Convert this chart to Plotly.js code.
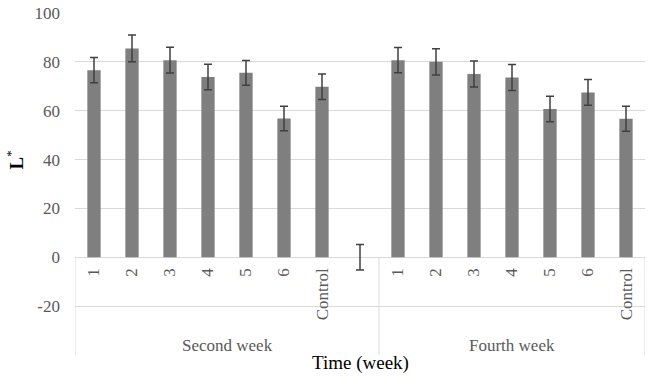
<!DOCTYPE html>
<html>
<head>
<meta charset="utf-8">
<script src="https://cdn.plot.ly/plotly-3.0.1.min.js"></script>
<style>html,body{margin:0;padding:0;background:#fff;}#chart{width:653px;height:380px;}</style>
</head>
<body>
<div id="chart"></div>
<script>
// ---- data ----
const groupLabels = ['Second week', 'Fourth week'];
const secondLabels = ['1', '2', '3', '4', '5', '6', 'Control', ''];
const secondValues = [76.6, 85.5, 80.7, 73.8, 75.5, 56.8, 69.8, 0];
const secondErrors = [5.2, 5.5, 5.3, 5.2, 5.1, 5.0, 5.2, 5.2];
const fourthLabels = ['1', '2', '3', '4', '5', '6', 'Control'];
const fourthValues = [80.7, 80.0, 75.0, 73.6, 60.7, 67.5, 56.7];
const fourthErrors = [5.2, 5.4, 5.3, 5.3, 5.2, 5.3, 5.1];
const yTicks = [-20, 0, 20, 40, 60, 80, 100];

// ---- build ----
const labels = secondLabels.concat(fourthLabels);
const values = secondValues.concat(fourthValues);
const errors = secondErrors.concat(fourthErrors);
const xs = labels.map((_, i) => i);
const groupSizes = [secondLabels.length, fourthLabels.length];

const serif = 'Liberation Serif, Times New Roman, serif';
const tickColor = '#595959';
const lineColor = '#d9d9d9';

const trace = {
  type: 'bar',
  x: xs,
  y: values,
  width: 0.35,
  marker: {color: '#7f7f7f', line: {width: 0}},
  error_y: {type: 'data', array: errors, visible: true, color: '#404040', thickness: 1.5, width: 4},
  hoverinfo: 'none'
};

const annotations = [];
labels.forEach((lab, i) => {
  if (!lab) return;
  annotations.push({
    x: i, y: 0, xref: 'x', yref: 'y', text: lab, showarrow: false,
    textangle: -90, xanchor: 'center', yanchor: 'top', yshift: -9,
    font: {family: serif, size: 17, color: tickColor}
  });
});
// group labels and dividers
const shapes = [];
let start = 0;
shapes.push({type: 'line', xref: 'x', yref: 'y', x0: -0.5, x1: -0.5, y0: 0, y1: -40, line: {color: lineColor, width: 1}});
groupSizes.forEach((n, g) => {
  const end = start + n;
  annotations.push({
    x: (start + end - 1) / 2, y: -36, xref: 'x', yref: 'y', text: groupLabels[g], showarrow: false,
    xanchor: 'center', yanchor: 'middle',
    font: {family: serif, size: 17, color: tickColor}
  });
  shapes.push({type: 'line', xref: 'x', yref: 'y', x0: end - 0.5, x1: end - 0.5, y0: 0, y1: -40, line: {color: lineColor, width: 1}});
  start = end;
});
// axis titles
annotations.push({
  x: 0.5, y: 0, xref: 'paper', yref: 'paper', text: 'Time (week)', showarrow: false,
  xanchor: 'center', yanchor: 'middle', yshift: -8,
  font: {family: serif, size: 19, color: '#000'}
});
annotations.push({
  x: 0, y: 40, xref: 'paper', yref: 'y', text: '<b>L</b><sup>*</sup>', showarrow: false,
  textangle: -90, xanchor: 'center', yanchor: 'middle', xshift: -60,
  font: {family: serif, size: 19, color: '#000'}
});

const layout = {
  width: 653, height: 380,
  margin: {l: 75, r: 8, t: 13, b: 25},
  paper_bgcolor: '#fff', plot_bgcolor: '#fff',
  showlegend: false,
  xaxis: {range: [-0.5, labels.length - 0.5], showticklabels: false, showgrid: false, zeroline: false, showline: false, ticks: ''},
  yaxis: {
    range: [-40, 100], tickvals: yTicks, ticktext: yTicks.map(String),
    showgrid: true, gridcolor: lineColor, gridwidth: 1, zeroline: false, showline: false, ticks: '',
    ticklabelstandoff: 14,
    tickfont: {family: serif, size: 17, color: tickColor}
  },
  shapes: shapes,
  annotations: annotations
};

Plotly.newPlot('chart', [trace], layout, {displayModeBar: false, staticPlot: true});
</script>
</body>
</html>
